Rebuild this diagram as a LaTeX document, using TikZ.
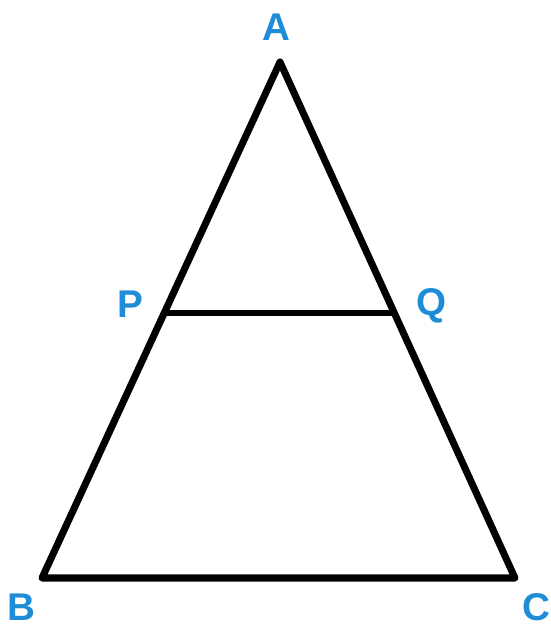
\documentclass[tikz,border=0pt]{standalone}
\usepackage{fontspec}
\setmainfont{Liberation Sans}
\usetikzlibrary{calc}
\definecolor{lblblue}{RGB}{30,140,215}
\begin{document}
\begin{tikzpicture}[x=0.02cm, y=-0.02cm]
\useasboundingbox (0,0) rectangle (551,629);
\tikzset{lbl/.style={text=lblblue, font=\fontsize{22}{22}\selectfont\bfseries, inner sep=0pt}}
\coordinate (A) at (280,62);
\coordinate (B) at (42,578);
\coordinate (C) at (515,578);
\coordinate (P) at ($(A)!0.486!(B)$);
\coordinate (Q) at ($(A)!0.486!(C)$);
\node[lbl] (la) at (276,27) {A};
\node[lbl] (lp) at (130,304) {P};
\node[lbl] (lq) at (432,306) {Q};
\node[lbl] (lb) at (21,607) {B};
\node[lbl] (lc) at (536,607) {C};
\draw[line width=4pt, line join=round] (A) -- (B) -- (C) -- cycle;
\draw[line width=3.5pt] (P) -- (Q);
\end{tikzpicture}
\end{document}
